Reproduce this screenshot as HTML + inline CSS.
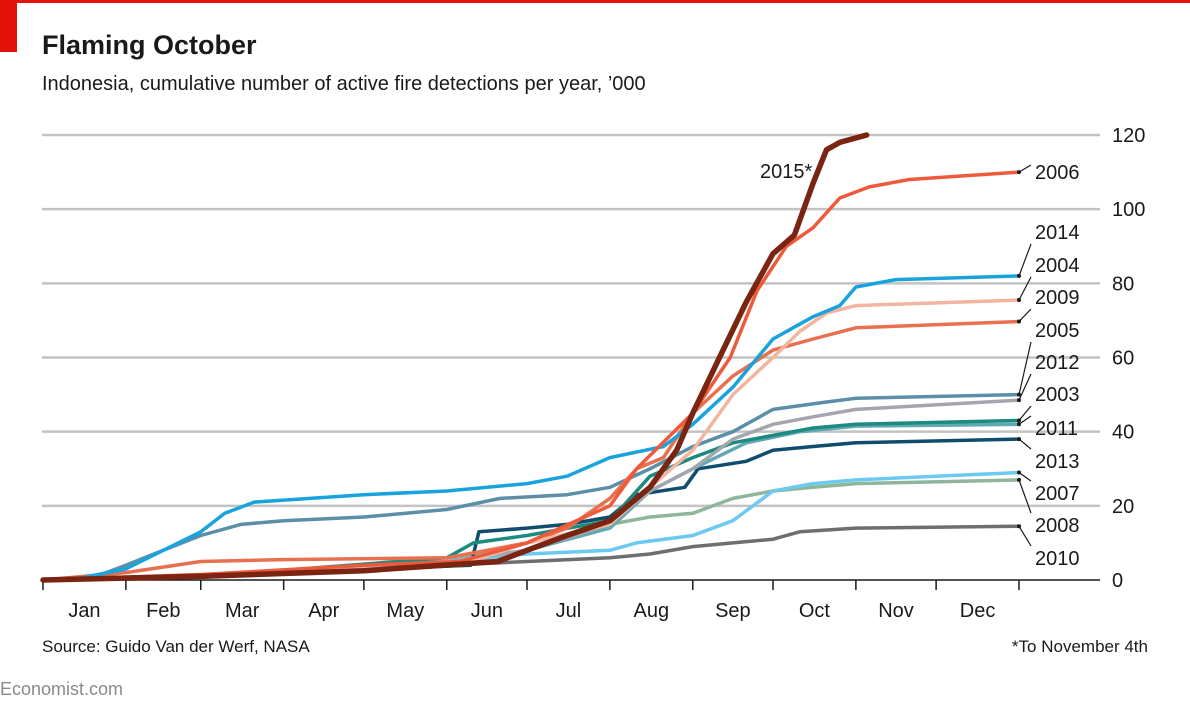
<!DOCTYPE html>
<html><head><meta charset="utf-8">
<style>
body{margin:0;background:#fff;}
svg text{font-family:"Liberation Sans",sans-serif;fill:#1a1a1a;}
</style></head>
<body>
<svg id="chart" width="1190" height="706" xmlns="http://www.w3.org/2000/svg">
<rect x="0" y="0" width="1190" height="3" fill="#e3120b"/>
<rect x="0" y="0" width="17" height="52" fill="#e3120b"/>
<text x="42" y="54" font-size="27" font-weight="bold">Flaming October</text>
<text x="42" y="90" font-size="20">Indonesia, cumulative number of active fire detections per year, ’000</text>
<g id="grid"></g>
<g id="series"></g>
<g id="labels"></g>
<text x="42" y="652" font-size="17">Source: Guido Van der Werf, NASA</text>
<text x="1148" y="652" font-size="17" text-anchor="end">*To November 4th</text>
<text x="0" y="695" font-size="18" style="fill:#8a8a8a">Economist.com</text>
</svg>
<script>
const months = ["Jan","Feb","Mar","Apr","May","Jun","Jul","Aug","Sep","Oct","Nov","Dec"];
const monthStarts = [0,31,59,90,120,151,181,212,243,273,304,334,365];
const yTicks = [0,20,40,60,80,100,120];
const years = ["2015","2006","2014","2004","2009","2005","2012","2003","2011","2013","2007","2008","2010"];
const colors = ["#7a2412","#ee5a3c","#19a3dc","#f2b5a0","#e8704f","#5b8fa8","#a3a6ad","#1d8a7f","#5fa9b3","#0e4d6b","#6ccaf0","#8fb59b","#6d6e71"];
const days = {
"2015":[0,60,120,170,181,196,212,227,237,243,253,263,273,281,288,293,298,308],
"2006":[0,60,120,156,181,212,222,243,257,267,278,288,298,309,324,365],
"2014":[0,14,31,45,59,68,79,120,151,181,196,212,232,243,258,273,288,298,304,319,365],
"2004":[0,60,120,156,181,212,227,243,258,273,283,293,304,365],
"2009":[0,31,59,90,151,181,196,212,222,232,243,258,273,288,304,365],
"2005":[0,20,31,45,59,74,90,120,151,171,196,212,227,243,258,273,293,304,365],
"2012":[0,60,151,181,212,227,243,258,273,288,304,365],
"2003":[0,60,151,161,181,212,227,243,258,273,288,304,365],
"2011":[0,60,151,181,212,227,243,263,283,304,365],
"2013":[0,60,160,163,181,196,212,222,240,245,263,273,288,304,365],
"2007":[0,60,151,181,212,222,243,258,273,288,304,365],
"2008":[0,60,151,181,212,227,243,258,273,288,304,365],
"2010":[0,60,151,181,212,227,243,258,273,283,304,365]
};
const values = {
"2015":[0,1,2.5,5,8,12,16,25,35,45,60,75,88,93,107,116,118,120],
"2006":[0,1.5,4,5,10,20,30,45,60,78,90,95,103,106,108,110],
"2014":[0,0.5,3,8,13,18,21,23,24,26,28,33,36,42,52,65,71,74,79,81,82],
"2004":[0,1,3,4,10,15,25,35,50,60,67,72,74,75.5],
"2009":[0,2,5,5.5,6,10,14,22,30,33,45,55,62,65,68,69.7],
"2005":[0,1,4,8,12,15,16,17,19,22,23,25,30,36,40,46,48,49,50],
"2012":[0,1,5,8,15,24,30,38,42,44,46,48.5],
"2003":[0,1,6,10,12,16,28,33,37,39,41,42,43],
"2011":[0,1,5,8,14,24,30,37,40,41.5,42],
"2013":[0,1,4,13,14,15,17,23,25,30,32,35,36,37,38],
"2007":[0,1,5,7,8,10,12,16,24,26,27,29],
"2008":[0,1,5,10,15,17,18,22,24,25,26,27],
"2010":[0,1,4,5,6,7,9,10,11,13,14,14.5]
};
const labelY = {"2006":172,"2014":232,"2004":265,"2009":297,"2005":330,"2012":362,"2003":394,"2011":428,"2013":461,"2007":493,"2008":525,"2010":558};

const NS="http://www.w3.org/2000/svg";
const X0=43,X1=1019,Y0=580,YTOP=135;
function xs(d){return X0+d/365*(X1-X0);}
function ys(v){return Y0-v/120*(Y0-YTOP);}
function mk(tag,attrs,parent){const e=document.createElementNS(NS,tag);for(const k in attrs)e.setAttribute(k,attrs[k]);parent.appendChild(e);return e;}
const grid=document.getElementById('grid'),ser=document.getElementById('series'),lab=document.getElementById('labels');
yTicks.forEach(v=>{
  if(v>0){const l=mk('line',{x1:42,x2:1100,y1:ys(v),y2:ys(v),stroke:'#c3c3c3','stroke-width':2.5},grid);
  
  }
  const t=mk('text',{x:1112,y:ys(v)+7,'font-size':20},grid);t.textContent=v;
  
  
});
const base=mk('line',{x1:42,x2:1100,y1:Y0,y2:Y0,stroke:'#1a1a1a','stroke-width':1.5},grid);


monthStarts.forEach((d,i)=>{
  const tk=mk('line',{x1:xs(d),x2:xs(d),y1:Y0,y2:Y0+10,stroke:'#1a1a1a','stroke-width':1.5},grid);
  
  
  if(i<12){const t=mk('text',{x:(xs(d)+xs(monthStarts[i+1]))/2,y:Y0+37,'font-size':20,'text-anchor':'middle'},grid);t.textContent=months[i];
  
  }
});
for(let i=years.length-1;i>=0;i--){
  const y=years[i];
  const pts=days[y].map((d,j)=>xs(d).toFixed(1)+','+ys(values[y][j]).toFixed(1)).join(' ');
  const pl=mk('polyline',{points:pts,fill:'none',stroke:colors[i],'stroke-width':y==="2015"?5.5:3.5,'stroke-linejoin':'round','stroke-linecap':'round'},ser);
  
  
  if(labelY[y]){
    const vEnd=values[y][values[y].length-1];
    const dy=ys(vEnd);
    const ld=mk('line',{x1:xs(365),y1:dy,x2:1031,y2:labelY[y]-(labelY[y]>dy+3?12:labelY[y]<dy-3?-12:7),stroke:'#1a1a1a','stroke-width':1.2},lab);
    
    
    const dt=mk('circle',{cx:xs(365),cy:dy,r:2,fill:'#1a1a1a'},lab);
    
    
    const t=mk('text',{x:1035,y:labelY[y]+7,'font-size':20},lab);t.textContent=y;
    
    
  }
}
const t15=mk('text',{x:760,y:178,'font-size':20},lab);t15.textContent="2015*";


</script>
</body></html>
